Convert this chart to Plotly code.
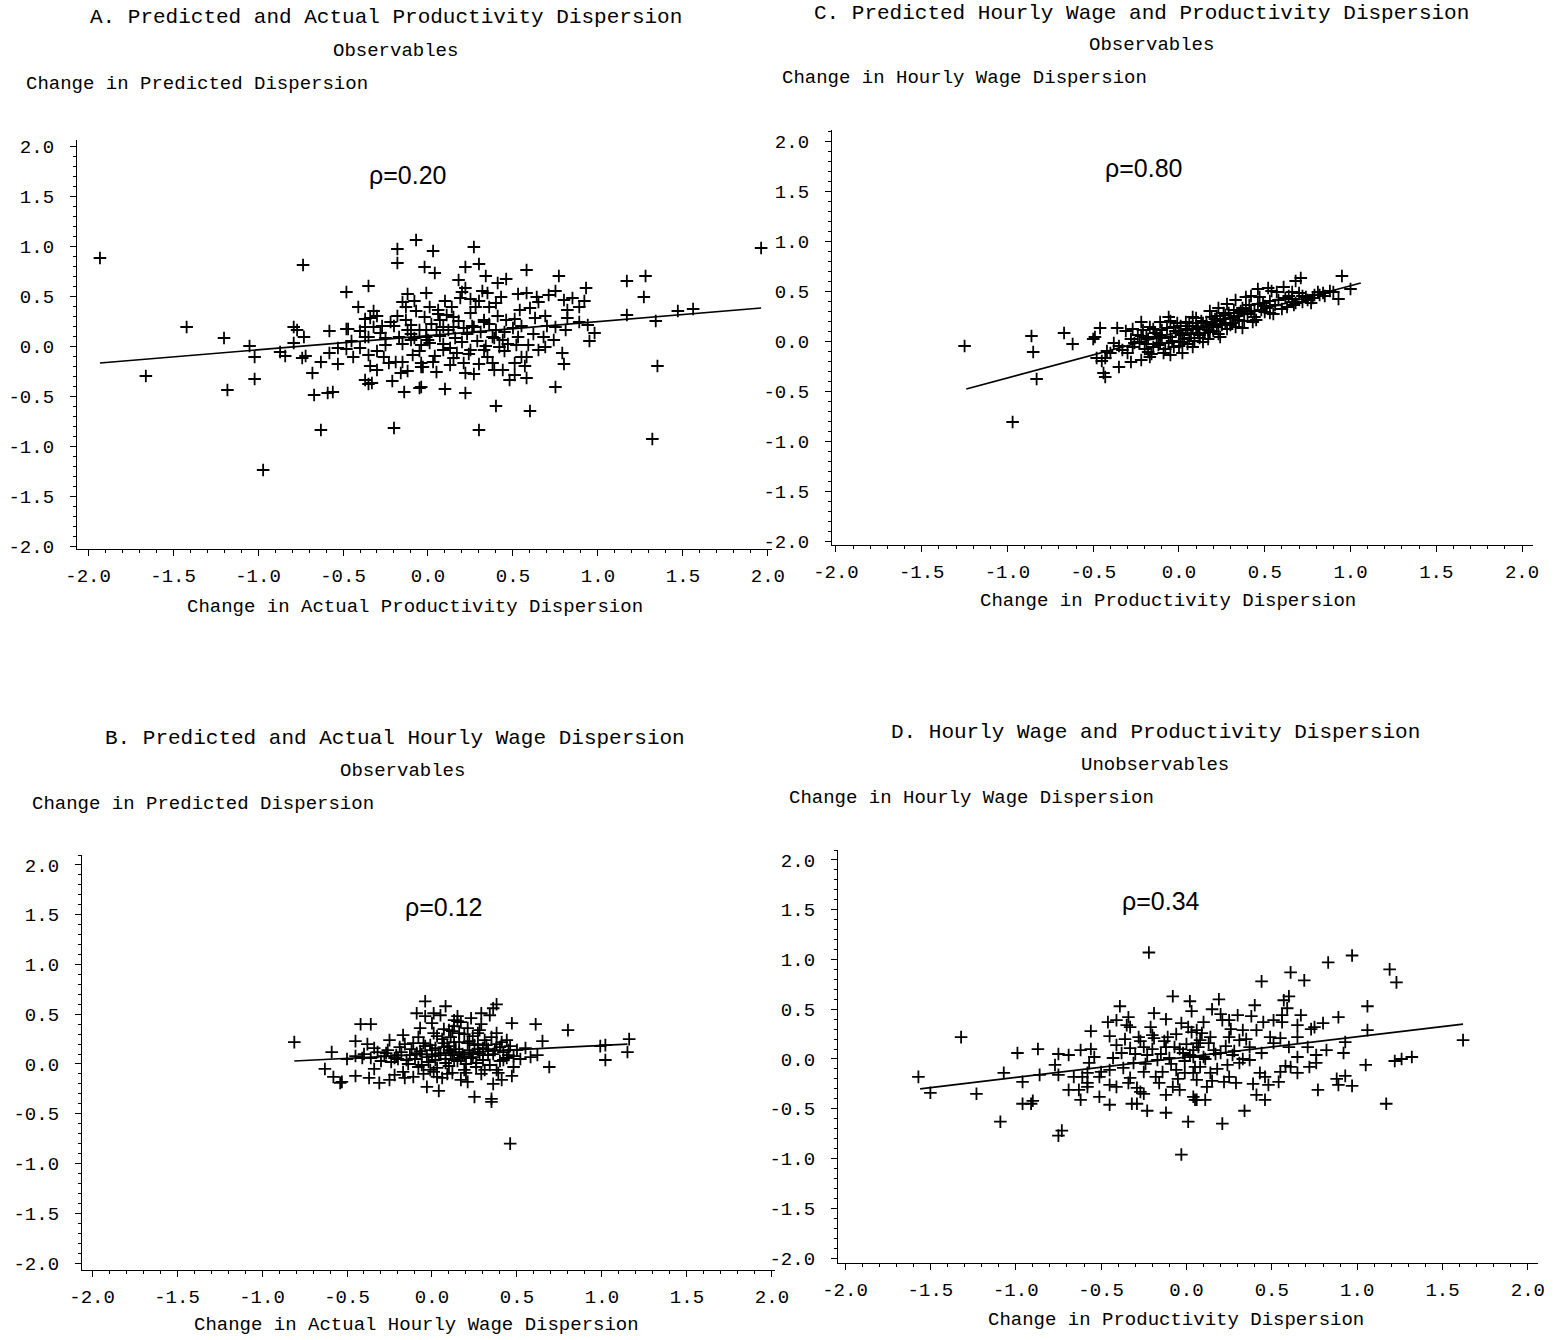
import plotly.graph_objects as go

# ---------------- data ----------------
tick_vals = [-2.0, -1.5, -1.0, -0.5, 0.0, 0.5, 1.0, 1.5, 2.0]
tick_text = ["-2.0", "-1.5", "-1.0", "-0.5", "0.0", "0.5", "1.0", "1.5", "2.0"]

# Panel A: (actual productivity dispersion change, predicted)
a_points = [
    (-1.93, 0.88), (-0.735, 0.81), (-0.07, 1.06), (-0.18, 0.97), (-0.18, 0.83), (-0.02, 0.79),
    (-0.35, 0.60), (-0.48, 0.54), (-0.12, 0.52), (-0.01, 0.53), (-0.41, 0.39), (-1.42, 0.19),
    (-1.20, 0.08), (-1.05, 0.00), (-1.02, -0.11), (-1.66, -0.30), (-1.18, -0.44), (-1.02, -0.33),
    (-0.97, -1.24), (-0.79, 0.19), (-0.77, 0.16), (-0.73, 0.09), (-0.79, 0.03), (-0.87, -0.06),
    (-0.84, -0.10), (-0.74, -0.12), (-0.72, -0.10), (-0.68, -0.27), (-0.63, -0.16), (-0.67, -0.49),
    (-0.59, -0.47), (-0.56, -0.46), (-0.63, -0.84), (-0.58, 0.15), (-0.48, 0.17), (-0.47, 0.17),
    (-0.58, -0.07), (-0.53, -0.18), (-0.53, -0.02), (-0.48, -0.03), (-0.44, -0.11), (-0.40, -0.02),
    (-0.37, 0.27), (-0.37, 0.19), (-0.32, 0.35), (-0.34, 0.28), (-0.37, 0.09), (-0.35, 0.09),
    (-0.32, 0.19), (-0.37, -0.34), (-0.35, -0.38), (-0.33, -0.37), (-0.34, -0.20), (-0.30, -0.24),
    (-0.35, -0.09), (-0.28, 0.13), (-0.25, 0.01), (-0.26, -0.11), (-0.22, 0.24), (-0.23, -0.17),
    (-0.21, -0.35), (-0.20, -0.82), (-0.19, -0.16), (-0.16, -0.27), (-0.14, -0.46), (-0.15, -0.16),
    (-0.15, 0.44), (-0.13, 0.39), (-0.07, 0.35), (-0.13, 0.26), (-0.10, 0.21), (-0.12, 0.16),
    (-0.17, 0.09), (-0.10, 0.06), (-0.08, 0.08), (-0.09, -0.09), (-0.04, -0.17), (-0.05, -0.42),
    (-0.03, -0.21), (-0.04, 0.01), (-0.02, 0.29), (-0.01, 0.16),
    (0.03, 0.95), (0.27, 0.99), (0.04, 0.73), (0.22, 0.79), (0.30, 0.82), (0.18, 0.66),
    (0.34, 0.70), (0.41, 0.63), (0.46, 0.67), (0.58, 0.76), (0.77, 0.70), (1.17, 0.65),
    (1.28, 0.70), (1.27, 0.49), (1.96, 0.98), (0.20, 0.54), (0.32, 0.55), (0.35, 0.53),
    (0.25, 0.47), (0.14, 0.39), (0.19, 0.48), (0.43, 0.49), (0.40, 0.43), (0.53, 0.52),
    (0.58, 0.53), (0.64, 0.49), (0.65, 0.44), (0.71, 0.51), (0.75, 0.55), (0.80, 0.46),
    (0.85, 0.48), (0.93, 0.58), (0.92, 0.45), (0.89, 0.39), (0.82, 0.36), (0.82, 0.28),
    (0.60, 0.38), (0.54, 0.36), (0.01, 0.39), (0.06, 0.36), (0.11, 0.31), (0.28, 0.39),
    (0.36, 0.39), (0.33, 0.26), (0.46, 0.26), (0.51, 0.27), (0.63, 0.28), (0.69, 0.30),
    (0.75, 0.19), (0.81, 0.16), (0.89, 0.24), (0.94, 0.21), (0.98, 0.13), (0.95, 0.05),
    (1.17, 0.31), (1.34, 0.25), (1.47, 0.35), (1.56, 0.37), (1.35, -0.20), (1.32, -0.93),
    (-0.05, 0.16), (-0.01, 0.09), (0.05, 0.16), (0.09, 0.19), (0.15, 0.19), (0.21, 0.18),
    (0.27, 0.19), (0.40, 0.16), (0.38, 0.09), (0.44, 0.06), (0.53, 0.09), (0.59, 0.01),
    (0.68, 0.09), (0.69, -0.01), (0.74, 0.06), (0.65, -0.04), (0.01, 0.03), (0.09, -0.04),
    (0.17, -0.07), (0.25, -0.04), (0.33, -0.04), (0.42, -0.01), (0.35, -0.11), (0.52, 0.01),
    (0.55, -0.11), (0.58, -0.11), (0.51, -0.17), (0.57, -0.20), (0.79, -0.07), (0.80, -0.18),
    (0.38, -0.17), (0.39, -0.24), (0.44, -0.24), (0.51, -0.29), (0.48, -0.34), (0.58, -0.32),
    (0.03, -0.16), (-0.04, -0.21), (0.13, -0.19), (0.21, -0.17), (0.05, -0.26), (0.22, -0.27),
    (0.27, -0.28), (-0.04, -0.41), (0.10, -0.43), (0.22, -0.47), (0.75, -0.41), (0.40, -0.60),
    (0.60, -0.65), (0.30, -0.84), (0.07, 0.26), (0.15, 0.29), (0.25, 0.33), (0.33, 0.24),
    (-0.25, 0.08), (-0.20, 0.20), (-0.15, 0.02), (-0.10, 0.12), (-0.05, -0.05), (0.00, 0.06),
    (0.02, 0.22), (0.04, -0.10), (0.07, 0.10), (0.09, 0.02), (0.12, 0.16), (0.13, -0.02),
    (0.16, 0.08), (0.18, 0.25), (0.20, 0.04), (0.23, 0.12), (0.24, -0.08), (0.26, 0.20),
    (0.29, 0.05), (0.31, 0.14), (0.34, 0.00), (0.36, 0.22), (0.39, 0.08), (0.41, 0.30),
    (0.45, 0.14), (0.47, 0.02), (0.50, 0.18), (-0.30, 0.30), (-0.12, -0.25), (0.06, 0.32),
    (-0.45, 0.05), (-0.40, 0.15), (-0.30, -0.05), (-0.27, 0.20), (-0.18, 0.30), (0.10, 0.45),
    (0.30, 0.45), (0.55, 0.20), (0.62, 0.12), (0.70, 0.20), (0.15, -0.12), (0.30, -0.18),
    (0.45, -0.05), (-0.08, 0.45), (0.22, 0.58),
]
a_fit_x = [-1.93, 1.96]
a_fit_y = [-0.17, 0.38]

# Panel C: (productivity dispersion change, predicted hourly wage dispersion change)
c_points = [
    (-1.25, -0.05), (-0.97, -0.81), (-0.86, 0.05), (-0.85, -0.11), (-0.83, -0.38), (-0.67, 0.08),
    (-0.62, -0.03), (-0.49, 0.04), (-0.46, 0.13), (-0.48, -0.17), (-0.43, -0.17), (-0.44, -0.32),
    (-0.43, -0.36), (-0.42, -0.10), (-0.38, -0.02), (-0.36, 0.13), (-0.31, 0.10), (-0.27, 0.12),
    (-0.35, -0.26), (-0.33, -0.09), (-0.28, -0.21), (-0.27, -0.06), (-0.22, -0.19), (-0.28, 0.02),
    (-0.22, 0.19), (-0.21, 0.11), (-0.23, -0.01), (-0.19, 0.04), (-0.17, 0.14), (-0.18, -0.11),
    (-0.17, -0.16), (-0.15, -0.06), (-0.13, 0.04), (-0.11, 0.19), (-0.10, 0.11), (-0.11, -0.02),
    (-0.09, -0.12), (-0.06, 0.24), (-0.05, 0.04), (-0.05, -0.14), (-0.03, -0.06), (-0.01, 0.18),
    (0.00, 0.08), (0.01, -0.01), (0.02, -0.12), (0.04, 0.19), (0.05, 0.11), (0.06, 0.03),
    (0.08, -0.06), (0.10, 0.23), (0.11, 0.14), (0.12, 0.06), (0.14, -0.01), (0.16, 0.19),
    (0.18, 0.09), (0.19, 0.24), (0.22, 0.14), (0.23, 0.33), (0.24, 0.04), (0.26, 0.28),
    (0.27, 0.18), (0.28, 0.37), (0.30, 0.23), (0.32, 0.31), (0.33, 0.41), (0.35, 0.21),
    (0.37, 0.13), (0.37, 0.33), (0.39, 0.44), (0.42, 0.45), (0.44, 0.24), (0.43, 0.19),
    (0.46, 0.52), (0.47, 0.44), (0.48, 0.31), (0.50, 0.29), (0.52, 0.53), (0.54, 0.50),
    (0.53, 0.28), (0.57, 0.49), (0.61, 0.54), (0.63, 0.34), (0.66, 0.49), (0.68, 0.60),
    (0.71, 0.63), (0.68, 0.38), (0.72, 0.39), (0.74, 0.44), (0.77, 0.38), (0.81, 0.49),
    (0.82, 0.46), (0.90, 0.49), (0.95, 0.65), (0.93, 0.42), (1.00, 0.52),
    (-0.30, -0.12), (-0.26, -0.02), (-0.24, 0.06), (-0.20, -0.08), (-0.18, 0.02), (-0.16, -0.13),
    (-0.14, 0.08), (-0.12, -0.04), (-0.10, 0.03), (-0.08, -0.08), (-0.07, 0.13), (-0.04, 0.00),
    (-0.02, 0.10), (0.00, -0.05), (0.01, 0.15), (0.03, 0.02), (0.05, -0.03), (0.06, 0.18),
    (0.07, 0.07), (0.09, 0.00), (0.10, 0.12), (0.12, 0.03), (0.13, 0.20), (0.15, 0.08),
    (0.16, 0.14), (0.17, 0.02), (0.19, 0.16), (0.20, 0.10), (0.21, 0.22), (0.23, 0.07),
    (0.25, 0.16), (0.26, 0.22), (0.28, 0.12), (0.29, 0.28), (0.31, 0.18), (0.33, 0.14),
    (0.34, 0.25), (0.36, 0.30), (0.38, 0.20), (0.40, 0.27), (0.41, 0.36), (0.44, 0.30),
    (0.45, 0.21), (0.49, 0.38), (0.51, 0.33), (0.55, 0.27), (0.58, 0.41), (0.60, 0.32),
    (0.64, 0.45), (0.67, 0.36), (0.70, 0.48), (0.75, 0.41), (0.79, 0.46), (0.85, 0.45),
    (0.88, 0.50), (-0.35, -0.05), (-0.40, -0.12), (-0.45, -0.20), (-0.50, 0.02), (-0.05, 0.20),
    (0.08, 0.24), (0.18, 0.30),
    (-0.22, 0.05), (-0.19, -0.03), (-0.15, 0.12), (-0.11, 0.06), (-0.06, -0.02), (-0.03, 0.14),
    (0.02, 0.06), (0.04, 0.12), (0.08, 0.15), (0.11, 0.08), (0.14, 0.18), (0.17, 0.11),
    (0.20, 0.17), (0.22, 0.25), (0.24, 0.20), (0.27, 0.26), (0.30, 0.16), (0.32, 0.24),
    (0.35, 0.28), (0.39, 0.32), (0.42, 0.30), (0.46, 0.37), (0.50, 0.35), (0.53, 0.40),
    (0.56, 0.36), (0.62, 0.43), (0.66, 0.42), (0.72, 0.45), (0.78, 0.43), (0.84, 0.48),
]
c_fit_x = [-1.24, 1.06]
c_fit_y = [-0.48, 0.58]

# Panel B: (actual hourly wage dispersion change, predicted)
b_points = [
    (-0.81, 0.22), (-0.59, 0.12), (-0.63, -0.05), (-0.58, -0.13), (-0.54, -0.19), (-0.53, -0.18),
    (-0.45, -0.12), (-0.45, 0.23), (-0.42, 0.40), (-0.36, 0.40), (-0.38, 0.20), (-0.41, 0.06),
    (-0.37, -0.14), (-0.34, -0.05), (-0.34, 0.16), (-0.31, -0.19), (-0.30, 0.03), (-0.25, -0.16),
    (-0.25, 0.24), (-0.27, 0.11), (-0.22, -0.11), (-0.21, 0.09), (-0.17, 0.29), (-0.17, -0.08),
    (-0.16, -0.14), (-0.15, 0.04), (-0.11, 0.21), (-0.11, -0.13), (-0.09, 0.11), (-0.09, 0.51),
    (-0.07, 0.36), (-0.06, -0.01), (-0.05, 0.21), (-0.04, 0.63), (-0.04, 0.48), (-0.03, 0.07),
    (-0.03, -0.23), (-0.01, -0.06), (0.00, 0.41), (0.00, 0.14), (0.01, 0.51), (0.01, 0.31),
    (0.02, 0.04), (0.03, -0.13), (0.04, -0.27), (0.05, 0.49), (0.06, -0.14), (0.07, 0.21),
    (0.08, 0.01), (0.08, 0.58), (0.10, 0.34), (0.11, 0.12), (0.12, -0.09), (0.13, 0.44),
    (0.13, 0.22), (0.15, 0.48), (0.15, 0.43), (0.16, 0.31), (0.17, 0.06), (0.17, -0.16),
    (0.19, -0.06), (0.21, -0.18), (0.21, 0.21), (0.23, 0.46), (0.24, 0.07), (0.25, -0.33),
    (0.26, 0.01), (0.27, 0.31), (0.28, 0.34), (0.29, 0.51), (0.30, 0.16), (0.31, -0.06),
    (0.34, 0.49), (0.33, 0.09), (0.35, -0.35), (0.35, -0.38), (0.36, -0.20), (0.36, 0.56),
    (0.38, 0.60), (0.38, 0.31), (0.38, -0.06), (0.40, 0.17), (0.41, -0.16), (0.42, 0.04),
    (0.44, 0.24), (0.45, 0.14), (0.46, -0.80), (0.47, 0.41), (0.48, -0.03), (0.50, 0.14),
    (0.61, 0.40), (0.62, 0.09), (0.65, 0.23), (0.69, -0.03), (0.80, 0.34), (0.99, 0.18),
    (1.02, 0.19), (1.02, 0.04), (1.16, 0.25), (1.15, 0.12),
    (-0.20, 0.05), (-0.18, 0.12), (-0.14, 0.00), (-0.12, 0.15), (-0.10, 0.05), (-0.08, -0.03),
    (-0.06, 0.10), (-0.04, 0.18), (-0.02, 0.02), (0.00, 0.08), (0.02, 0.16), (0.03, -0.04),
    (0.05, 0.11), (0.06, 0.25), (0.08, 0.05), (0.09, 0.18), (0.10, -0.02), (0.11, 0.27),
    (0.12, 0.09), (0.14, 0.15), (0.15, 0.03), (0.16, 0.22), (0.18, 0.10), (0.19, 0.30),
    (0.20, 0.00), (0.22, 0.14), (0.23, 0.06), (0.25, 0.19), (0.26, -0.03), (0.28, 0.11),
    (0.30, 0.04), (0.31, 0.24), (0.33, 0.15), (0.34, -0.01), (0.36, 0.10), (0.38, 0.20),
    (0.40, 0.03), (0.42, 0.12), (0.44, 0.06), (0.46, 0.18), (0.48, 0.08), (-0.28, 0.08),
    (-0.32, 0.12), (-0.36, 0.06), (-0.40, 0.10), (-0.24, 0.02), (-0.16, 0.20), (0.07, 0.35),
    (0.13, 0.38), (0.21, 0.36), (0.17, 0.42), (0.27, 0.20), (0.35, 0.27), (-0.05, -0.10),
    (0.01, -0.08), (0.09, -0.10), (0.20, -0.09), (0.29, -0.10), (0.39, -0.09), (0.52, 0.05),
    (0.55, 0.16), (0.58, 0.07), (-0.45, 0.08), (-0.50, 0.05), (0.47, -0.12),
    (-0.26, 0.14), (-0.22, 0.06), (-0.19, 0.17), (-0.13, 0.09), (-0.07, 0.13), (-0.01, 0.19),
    (0.04, 0.09), (0.07, 0.17), (0.10, 0.14), (0.13, 0.04), (0.16, 0.12), (0.19, 0.08),
    (0.22, 0.23), (0.24, 0.10), (0.27, 0.15), (0.30, 0.09), (0.32, 0.19), (0.37, 0.14),
    (0.41, 0.22), (0.45, 0.09), (0.03, 0.28), (0.12, 0.33), (0.24, 0.28), (0.29, 0.40),
    (-0.08, 0.27),
]
b_fit_x = [-0.81, 1.15]
b_fit_y = [0.03, 0.20]

# Panel D: (productivity dispersion change, hourly wage dispersion change) - unobservables
d_points = [
    (-1.57, -0.18), (-1.50, -0.34), (-1.32, 0.22), (-1.23, -0.35), (-1.09, -0.63), (-1.07, -0.14),
    (-0.99, 0.06), (-0.96, -0.23), (-0.96, -0.45), (-0.91, -0.45), (-0.90, -0.42), (-0.87, 0.10),
    (-0.86, -0.16), (-0.77, -0.06), (-0.75, 0.05), (-0.75, -0.16), (-0.75, -0.77), (-0.73, -0.72),
    (-0.69, 0.04), (-0.69, -0.31), (-0.66, -0.18), (-0.63, -0.31), (-0.62, -0.41), (-0.62, 0.09),
    (-0.61, -0.18), (-0.58, -0.14), (-0.58, -0.24), (-0.58, -0.28), (-0.56, 0.28), (-0.56, 0.10),
    (-0.57, -0.04), (-0.54, 0.02), (-0.51, -0.18), (-0.51, -0.38), (-0.50, -0.13), (-0.46, 0.37),
    (-0.45, 0.23), (-0.45, -0.46), (-0.45, -0.26), (-0.45, -0.11), (-0.43, 0.01), (-0.41, 0.39),
    (-0.41, 0.14), (-0.41, -0.28), (-0.39, 0.53), (-0.38, 0.06), (-0.37, -0.09), (-0.35, 0.34),
    (-0.34, 0.42), (-0.33, 0.32), (-0.34, -0.24), (-0.33, 0.11), (-0.33, -0.19), (-0.32, -0.45),
    (-0.31, -0.04), (-0.29, -0.45), (-0.29, -0.29), (-0.28, 0.22), (-0.27, -0.33), (-0.25, -0.13),
    (-0.25, -0.35), (-0.25, 0.12), (-0.23, 0.04), (-0.23, -0.52), (-0.22, 1.07), (-0.21, 0.32),
    (-0.20, 0.24), (-0.19, 0.46), (-0.19, 0.21), (-0.18, -0.18), (-0.17, -0.01), (-0.16, -0.24),
    (-0.14, -0.13), (-0.12, -0.36), (-0.12, -0.54), (-0.12, 0.12), (-0.11, 0.22), (-0.10, 0.01),
    (-0.08, 0.63), (-0.08, -0.28), (-0.07, 0.12), (-0.06, -0.11), (-0.04, -0.31), (-0.03, -0.96),
    (-0.03, 0.36), (-0.02, 0.06), (-0.01, -0.14), (0.01, -0.63), (0.02, 0.58), (0.03, 0.48),
    (0.03, 0.27), (0.04, -0.38), (0.05, -0.41), (0.04, 0.02), (0.06, 0.16), (0.06, -0.21),
    (0.19, 0.60), (0.15, 0.50), (0.10, 0.37), (0.21, 0.39), (0.25, 0.39), (0.30, 0.44),
    (0.38, 0.43), (0.40, 0.54), (0.44, 0.78), (0.45, 0.37), (0.51, 0.39), (0.57, 0.59),
    (0.60, 0.63), (0.59, 0.51), (0.61, 0.87), (0.56, 0.44), (0.56, 0.37), (0.69, 0.79),
    (0.67, 0.44), (0.65, 0.34), (0.83, 0.97), (0.97, 1.04), (0.80, 0.36), (0.89, 0.42),
    (0.73, 0.30), (0.75, 0.32), (1.06, 0.53), (1.06, 0.29), (1.19, 0.90), (1.23, 0.77),
    (0.93, 0.17), (0.92, 0.06), (0.82, 0.09), (0.76, 0.04), (0.76, -0.04), (0.72, -0.08),
    (0.77, -0.31), (0.88, -0.20), (0.89, -0.26), (0.93, -0.17), (0.97, -0.27), (1.05, -0.06),
    (1.22, -0.02), (1.26, 0.00), (1.32, 0.02), (1.17, -0.45), (1.62, 0.19), (0.65, 0.02),
    (0.65, -0.14), (0.61, -0.08), (0.58, -0.07), (0.55, -0.13), (0.54, -0.23), (0.48, -0.26),
    (0.46, -0.41), (0.41, -0.36), (0.39, -0.25), (0.34, -0.52), (0.21, -0.65), (0.29, -0.24),
    (0.25, -0.18), (0.22, -0.23), (0.12, -0.28), (0.11, -0.41), (0.06, -0.41), (0.14, -0.14),
    (0.24, -0.06), (0.31, -0.04), (0.37, -0.01), (0.43, -0.14), (0.46, -0.18), (0.44, 0.06),
    (0.51, 0.16), (0.49, 0.22), (0.55, 0.21), (0.60, 0.12), (0.65, 0.22), (0.71, 0.12),
    (0.37, 0.12), (0.31, 0.19), (0.25, 0.22), (0.14, 0.22), (0.08, 0.19), (0.16, 0.09),
    (0.04, 0.09), (0.10, 0.02), (0.20, 0.06), (0.27, 0.04), (0.41, 0.29), (0.33, 0.29),
    (0.06, 0.29), (0.04, -0.14), (0.08, -0.08),
    (-0.15, 0.05), (-0.13, 0.18), (-0.09, -0.05), (-0.06, 0.25), (-0.04, 0.10), (-0.01, -0.02),
    (0.00, 0.15), (0.02, 0.04), (0.05, -0.08), (0.07, 0.12), (0.09, 0.26), (0.11, 0.00),
    (0.13, 0.16), (0.17, 0.05), (0.18, -0.10), (0.23, 0.13), (0.26, 0.30), (0.28, 0.08),
    (0.33, 0.00), (0.35, 0.20), (-0.20, 0.10), (-0.24, -0.05), (-0.27, 0.18), (-0.30, 0.05),
    (-0.36, 0.20), (-0.05, -0.20), (0.01, 0.32), (0.15, -0.22), (-0.12, 0.40), (0.20, 0.45),
]
d_fit_x = [-1.56, 1.62]
d_fit_y = [-0.30, 0.35]

# ---------------- layout helpers ----------------
W, H = 1555, 1340
MONO = "Liberation Mono"
RHO_FONT = "Liberation Sans Narrow, Arial Narrow, Liberation Sans"

panels = [
    dict(pts=a_points, fx=a_fit_x, fy=a_fit_y, xpx=(77, 772), ypx=(140, 549),
         xr=[-2.065, 2.024], yr=[-2.03, 2.06],
         title=("A. Predicted and Actual Productivity Dispersion", 386, 18),
         sub=("Observables", 395, 51), ytitle=("Change in Predicted Dispersion", 24, 84),
         xtitle=("Change in Actual Productivity Dispersion", 415, 607),
         rho=("\u03c1=0.20", 407, 175)),
    dict(pts=c_points, fx=c_fit_x, fy=c_fit_y, xpx=(832, 1533), ypx=(130, 545),
         xr=[-2.023, 2.064], yr=[-2.04, 2.11],
         title=("C. Predicted Hourly Wage and Productivity Dispersion", 1141, 13),
         sub=("Observables", 1151, 45), ytitle=("Change in Hourly Wage Dispersion", 780, 78),
         xtitle=("Change in Productivity Dispersion", 1168, 601),
         rho=("\u03c1=0.80", 1143, 168)),
    dict(pts=b_points, fx=b_fit_x, fy=b_fit_y, xpx=(82, 775), ypx=(855, 1270),
         xr=[-2.059, 2.018], yr=[-2.07, 2.10],
         title=("B. Predicted and Actual Hourly Wage Dispersion", 395, 738),
         sub=("Observables", 402, 771), ytitle=("Change in Predicted Dispersion", 30, 804),
         xtitle=("Change in Actual Hourly Wage Dispersion", 416, 1325),
         rho=("\u03c1=0.12", 443, 907)),
    dict(pts=d_points, fx=d_fit_x, fy=d_fit_y, xpx=(838, 1538), ypx=(850, 1263),
         xr=[-2.041, 2.059], yr=[-2.05, 2.10],
         title=("D. Hourly Wage and Productivity Dispersion", 1155, 732),
         sub=("Unobservables", 1155, 765), ytitle=("Change in Hourly Wage Dispersion", 787, 798),
         xtitle=("Change in Productivity Dispersion", 1176, 1320),
         rho=("\u03c1=0.34", 1161, 901)),
]

fig = go.Figure()
annotations = []


def px(x):
    return x / W


def py(y):
    return 1 - y / H


for i, p in enumerate(panels, start=1):
    xa = "x" if i == 1 else f"x{i}"
    ya = "y" if i == 1 else f"y{i}"
    xs = [q[0] for q in p["pts"]]
    ys = [q[1] for q in p["pts"]]
    fig.add_trace(go.Scatter(
        x=xs, y=ys, mode="markers", xaxis=xa, yaxis=ya, showlegend=False,
        marker=dict(symbol="cross-thin", size=9, line=dict(width=1.8, color="black"), color="black"),
    ))
    fig.add_trace(go.Scatter(
        x=p["fx"], y=p["fy"], mode="lines", xaxis=xa, yaxis=ya, showlegend=False,
        line=dict(color="black", width=1.7),
    ))
    common = dict(
        tickmode="array", tickvals=tick_vals, ticktext=tick_text,
        showline=True, linecolor="black", linewidth=1.3,
        ticks="outside", ticklen=6, tickwidth=1.2, tickcolor="black",
        showgrid=False, zeroline=False, automargin=False,
        tickfont=dict(family=MONO, size=19, color="black"),
        minor=dict(tickmode="linear", tick0=0, dtick=0.1, ticks="outside",
                   ticklen=3, tickwidth=1, tickcolor="black", showgrid=False),
    )
    xkey = "xaxis" if i == 1 else f"xaxis{i}"
    ykey = "yaxis" if i == 1 else f"yaxis{i}"
    fig.update_layout(**{
        xkey: dict(domain=[px(p["xpx"][0]), px(p["xpx"][1])], range=p["xr"],
                   anchor=ya, ticklabelstandoff=3, **common),
        ykey: dict(domain=[py(p["ypx"][1]), py(p["ypx"][0])], range=p["yr"],
                   anchor=xa, ticklabelstandoff=12, **common),
    })
    t, tx, ty = p["title"]
    annotations.append(dict(text=t, x=px(tx), y=py(ty), xref="paper", yref="paper",
                            xanchor="center", yanchor="middle", showarrow=False,
                            font=dict(family=MONO, size=21, color="black")))
    t, tx, ty = p["sub"]
    annotations.append(dict(text=t, x=px(tx), y=py(ty), xref="paper", yref="paper",
                            xanchor="center", yanchor="middle", showarrow=False,
                            font=dict(family=MONO, size=19, color="black")))
    t, tx, ty = p["ytitle"]
    annotations.append(dict(text=t, x=px(tx), y=py(ty), xref="paper", yref="paper",
                            xanchor="left", yanchor="middle", showarrow=False,
                            font=dict(family=MONO, size=19, color="black")))
    t, tx, ty = p["xtitle"]
    annotations.append(dict(text=t, x=px(tx), y=py(ty), xref="paper", yref="paper",
                            xanchor="center", yanchor="middle", showarrow=False,
                            font=dict(family=MONO, size=19, color="black")))
    t, tx, ty = p["rho"]
    annotations.append(dict(text=t, x=px(tx), y=py(ty), xref="paper", yref="paper",
                            xanchor="center", yanchor="middle", showarrow=False,
                            font=dict(family=RHO_FONT, size=25, color="black")))

fig.update_layout(
    width=W, height=H, margin=dict(l=0, r=0, t=0, b=0),
    paper_bgcolor="white", plot_bgcolor="white",
    annotations=annotations, showlegend=False,
)

fig.write_html("out.html")
